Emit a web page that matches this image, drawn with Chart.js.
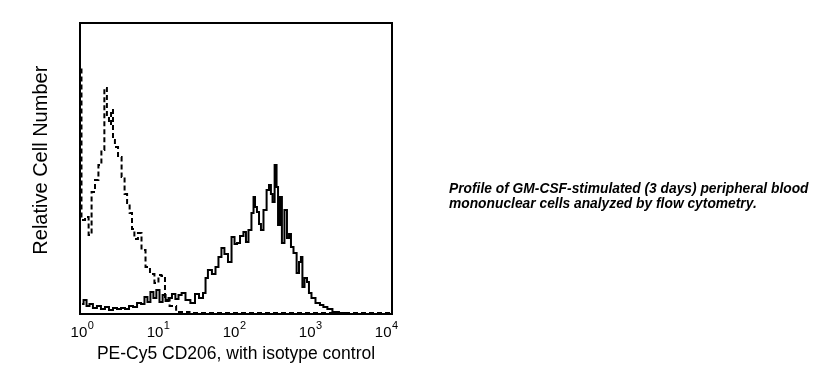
<!DOCTYPE html>
<html>
<head>
<meta charset="utf-8">
<script src="https://cdn.jsdelivr.net/npm/chart.js@4/dist/chart.umd.min.js"></script>
<style>
  html, body { margin: 0; padding: 0; background: #fff; }
  #wrap { position: relative; width: 839px; height: 389px; }
  #legenda {
    position: absolute; left: 449px; top: 181px;
    font: italic bold 13.8px "Liberation Sans", Arial, sans-serif;
    line-height: 15px; color: #000; white-space: nowrap;
  }
</style>
</head>
<body>
<div id="wrap">
  <canvas id="grafico" width="839" height="389"></canvas>
  <div id="legenda">Profile of GM-CSF-stimulated (3 days) peripheral blood<br>mononuclear cells analyzed by flow cytometry.</div>
</div>
<script>
// Canais do citômetro (4 décadas em 1024 canais)
const canaisIsotipo = [0, 0, 10, 24, 34, 44, 57, 67, 77, 87, 94, 101, 108, 114, 121, 135, 145, 155, 162, 172,
  178, 188, 202, 212, 229, 242, 259, 269, 279, 293, 310, 337, 400, 600, 800, 1050];
const contagemIsotipo = [0, 246, 94, 97, 79, 122, 134, 149, 164, 226, 197, 190, 204, 174, 167, 157, 137, 120, 111, 101,
  85, 75, 81, 64, 47, 40, 31, 39, 38, 14, 8, 2, 1, 1, 1, 1];

const canaisCD206 = [7, 17, 27, 37, 50, 64, 77, 91, 104, 118, 131, 145, 158, 172, 185, 199, 212, 222, 232, 242,
  252, 262, 273, 283, 293, 303, 316, 326, 337, 347, 363, 380, 394, 407, 421, 424, 437, 451, 461, 471,
  481, 491, 505, 515, 525, 532, 545, 555, 562, 572, 582, 586, 592, 599, 606, 612, 623, 633, 639, 646,
  650, 660, 663, 670, 676, 683, 693, 700, 707, 713, 724, 734, 740, 747, 750, 761, 767, 774, 784, 801,
  814, 824, 841, 858, 885, 909, 1050];
const contagemCD206 = [10, 14, 8, 10, 6, 8, 5, 7, 4, 6, 5, 6, 5, 8, 7, 11, 10, 17, 12, 22,
  16, 24, 12, 19, 13, 16, 20, 15, 19, 21, 14, 11, 20, 16, 21, 36, 44, 40, 47, 57,
  66, 60, 52, 77, 70, 71, 78, 82, 72, 84, 101, 117, 107, 102, 90, 84, 104, 124, 129, 120,
  112, 149, 127, 89, 117, 71, 104, 76, 80, 67, 61, 41, 52, 57, 27, 36, 32, 21, 16, 11,
  9, 7, 5, 2, 1, 0, 0];

// Marcas do eixo x (10^0 ... 10^4)
const ticksCanais = [0, 256, 512, 768, 1024];
const ticksExpoentes = ['0', '1', '2', '3', '4'];

const fonte = '"Liberation Sans", Arial, sans-serif';

// Moldura e rótulos com expoente
const pluginMoldura = {
  id: 'moldura',
  afterDraw(chart) {
    const ctx = chart.ctx;
    const a = chart.chartArea;
    ctx.save();
    ctx.strokeStyle = '#000';
    ctx.lineWidth = 2;
    ctx.strokeRect(a.left, a.top, a.right - a.left, a.bottom - a.top);

    const escalaX = chart.scales.x;
    ctx.fillStyle = '#000';
    ctx.textBaseline = 'alphabetic';
    ticksCanais.forEach((v, i) => {
      const px = escalaX.getPixelForValue(v);
      ctx.font = '15px ' + fonte;
      const w10 = ctx.measureText('10').width;
      ctx.font = '11px ' + fonte;
      const wExp = ctx.measureText(ticksExpoentes[i]).width;
      const x0 = px - (w10 + wExp) / 2 + 2;
      ctx.font = '15px ' + fonte;
      ctx.fillText('10', x0, 337);
      ctx.font = '11px ' + fonte;
      ctx.fillText(ticksExpoentes[i], x0 + w10 + 0.5, 329);
    });
    ctx.restore();
  }
};

const dadosHistograma = {
  datasets: [{
    label: 'Isotype control',
    data: canaisIsotipo.map((c, i) => ({ x: c, y: contagemIsotipo[i] })),
    borderColor: '#000',
    borderWidth: 2,
    borderDash: [5, 3],
    pointRadius: 0,
    stepped: 'middle',
    fill: false
  }, {
    label: 'CD206',
    data: canaisCD206.map((c, i) => ({ x: c, y: contagemCD206[i] })),
    borderColor: '#000',
    borderWidth: 2,
    pointRadius: 0,
    stepped: 'middle',
    fill: false
  }]
};

const graficoHistograma = new Chart(
  document.getElementById('grafico'),
  {
    type: 'line',
    data: dadosHistograma,
    options: {
      responsive: false,
      animation: false,
      devicePixelRatio: 1,
      layout: { padding: { top: 23, right: 447, bottom: 0, left: 0 } },
      plugins: { legend: { display: false }, tooltip: { enabled: false } },
      scales: {
        x: {
          type: 'linear',
          min: 0,
          max: 1050,
          grid: { display: false },
          border: { display: false },
          ticks: { display: false },
          afterFit(s) { s.height = 75; },
          title: {
            display: true,
            text: 'PE-Cy5 CD206, with isotype control',
            color: '#000',
            font: { family: fonte, size: 17.5 },
            padding: { top: 0, bottom: 24 }
          }
        },
        y: {
          type: 'linear',
          min: 0,
          max: 291,
          grid: { display: false },
          border: { display: false },
          ticks: { display: false },
          afterFit(s) { s.width = 80; },
          title: {
            display: true,
            text: '   Relative Cell Number',
            color: '#000',
            font: { family: fonte, size: 20 },
            padding: { top: 29, bottom: 0 }
          }
        }
      }
    },
    plugins: [pluginMoldura]
  }
);
</script>
</body>
</html>
